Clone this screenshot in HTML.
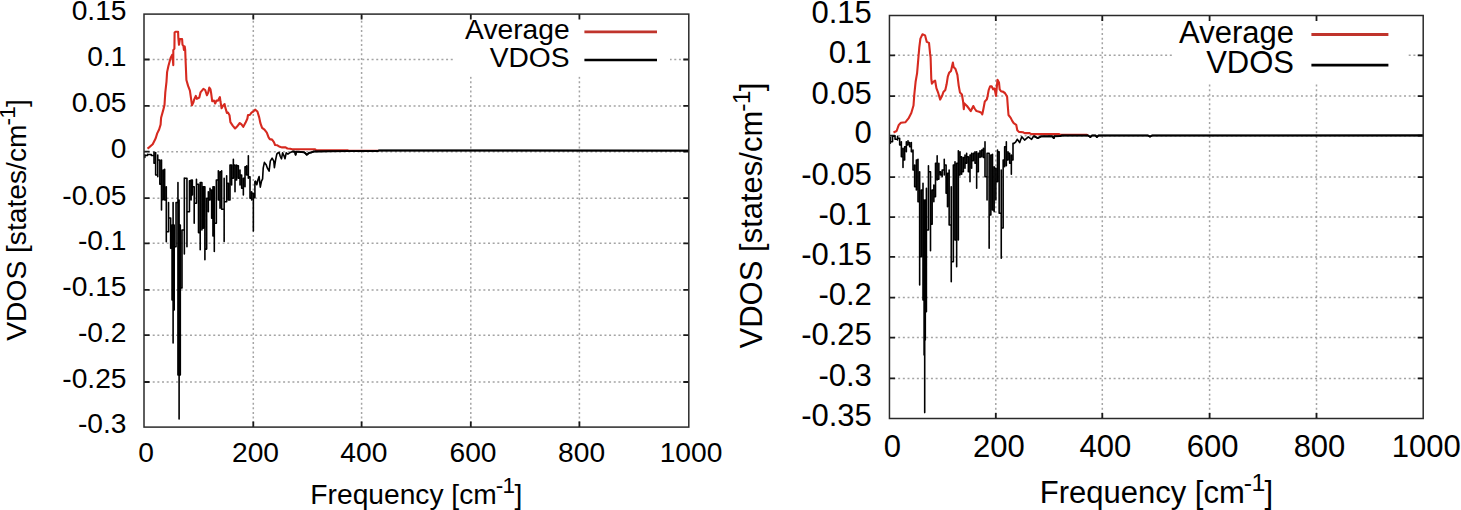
<!DOCTYPE html>
<html><head><meta charset="utf-8"><style>html,body{margin:0;padding:0;background:#fff;width:1461px;height:510px;overflow:hidden}svg{display:block}</style></head>
<body><svg width="1461" height="510" viewBox="0 0 1461 510" font-family='"Liberation Sans", sans-serif' fill="#000">
<rect width="1461" height="510" fill="#fff"/>
<g font-size="28.2"><path d="M144.00 59.50H688.80M144.00 105.90H688.80M144.00 151.70H688.80M144.00 198.20H688.80M144.00 243.30H688.80M144.00 289.90H688.80M144.00 335.20H688.80M144.00 382.00H688.80" stroke="#a4a4a4" stroke-width="1.5" stroke-dasharray="2 2.657" stroke-dashoffset="0.61" fill="none"/>
<path d="M253.30 427.10V14.10M361.60 427.10V14.10M470.80 427.10V14.10M579.40 427.10V14.10" stroke="#a4a4a4" stroke-width="1.5" stroke-dasharray="2 2.657" stroke-dashoffset="0.81" fill="none"/>
<rect x="454" y="14.1" width="216" height="62.4" fill="#fff"/>
<path d="M144.00 59.50h5.5M688.80 59.50h-5.5M144.00 105.90h5.5M688.80 105.90h-5.5M144.00 151.70h5.5M688.80 151.70h-5.5M144.00 198.20h5.5M688.80 198.20h-5.5M144.00 243.30h5.5M688.80 243.30h-5.5M144.00 289.90h5.5M688.80 289.90h-5.5M144.00 335.20h5.5M688.80 335.20h-5.5M144.00 382.00h5.5M688.80 382.00h-5.5M253.30 427.10v-5.5M253.30 14.10v5.5M361.60 427.10v-5.5M361.60 14.10v5.5M470.80 427.10v-5.5M470.80 14.10v5.5M579.40 427.10v-5.5M579.40 14.10v5.5" stroke="#1a1a1a" stroke-width="1.8" fill="none"/>
<polyline points="147.5,148.6 148.8,147.6 152.7,144.2 155.7,138.3 157.2,133.4 159.1,129.5 160.6,124.6 161.1,117.7 163.0,110.9 164.5,105.0 165.3,92.4 166.5,81.6 167.1,72.1 168.4,66.0 170.6,58.0 172.4,54.5 173.3,65.1 173.3,50.1 174.4,48.7 174.6,32.4 175.9,31.7 178.1,31.7 178.3,37.7 179.0,44.8 179.9,39.0 182.1,39.0 182.5,44.8 183.4,45.7 183.9,50.0 184.7,46.5 185.2,50.0 185.6,60.7 186.4,80.0 188.1,85.9 189.9,90.6 191.1,98.8 192.0,105.3 193.4,102.4 194.0,100.0 195.8,95.9 196.9,98.8 199.3,97.6 200.5,92.4 203.4,88.8 205.2,90.0 206.9,95.3 208.1,92.9 209.3,87.6 210.5,89.4 211.1,92.9 212.2,101.2 214.0,100.6 215.2,103.5 216.4,100.6 218.1,100.6 219.9,97.1 220.5,101.8 221.6,108.2 222.8,105.9 224.6,104.1 225.2,107.1 226.9,112.9 228.0,112.6 229.5,115.2 230.4,122.1 232.7,125.6 235.1,128.5 236.8,126.8 239.8,123.0 241.5,124.4 243.3,126.8 245.6,122.6 247.4,118.5 248.0,115.0 249.8,115.0 251.5,112.6 253.3,111.5 255.1,109.7 257.4,111.5 259.2,117.4 260.4,123.2 262.1,127.9 264.5,129.7 266.8,132.6 268.6,137.4 269.8,139.1 272.1,139.6 273.9,142.1 275.1,145.0 277.4,145.3 279.8,146.8 282.1,147.4 285.6,147.4 287.4,148.5 290.3,148.8 292.0,149.3 315.3,149.3 316.2,150.4 348.0,150.4 349.0,150.7 378.5,150.7" stroke="#d62a20" stroke-width="2.1" fill="none" stroke-linejoin="round"/>
<polyline points="144.85,154.2 144.85,154.2 144.85,157.5 144.85,155.5 147.55,155.5 147.55,155.5 147.55,154.3 147.55,154.5 151.30,154.5 151.30,154.5 151.30,155.5 151.30,155.5 154.00,155.5 154.00,152.0 154.00,163.3 154.00,163.3 155.65,163.3 155.65,152.5 155.65,175.0 155.65,175.0 157.75,175.0 157.75,176.7 157.75,155.0 157.75,160.0 159.85,160.0 159.85,160.0 159.85,184.2 159.85,184.2 161.50,184.2 161.50,160.0 161.50,210.0 161.50,199.8 163.15,199.8 163.15,199.8 163.15,170.0 163.15,170.0 164.65,170.0 164.65,169.2 164.65,200.0 164.65,200.0 166.30,200.0 166.30,186.7 166.30,241.7 166.30,231.7 168.55,231.7 168.55,231.7 168.55,202.5 168.55,218.0 170.65,218.0 170.65,218.0 170.65,248.3 170.65,248.3 172.05,248.3 172.05,225.0 172.05,300.0 172.05,300.0 173.10,300.0 173.10,343.0 173.10,202.5 173.10,225.0 174.20,225.0 174.20,225.0 174.20,310.0 174.20,246.7 176.05,246.7 176.05,246.7 176.05,202.5 176.05,202.5 177.95,202.5 177.95,182.5 177.95,375.0 177.95,375.0 179.10,375.0 179.10,419.0 179.10,200.0 179.10,225.0 180.30,225.0 180.30,225.0 180.30,375.0 180.30,288.0 182.00,288.0 182.00,288.0 182.00,230.0 182.00,230.0 184.35,230.0 184.35,254.0 184.35,178.0 184.35,178.3 186.95,178.3 186.95,178.3 186.95,246.8 186.95,211.7 189.45,211.7 189.45,211.7 189.45,180.8 189.45,180.8 191.10,180.8 191.10,180.0 191.10,200.0 191.10,195.0 192.35,195.0 192.35,195.0 192.35,180.0 192.35,186.7 194.20,186.7 194.20,186.7 194.20,223.2 194.20,203.3 196.45,203.3 196.45,203.3 196.45,179.2 196.45,184.2 198.50,184.2 198.50,184.2 198.50,232.6 198.50,232.6 200.20,232.6 200.20,249.7 200.20,182.5 200.20,182.5 201.90,182.5 201.90,182.5 201.90,230.0 201.90,228.3 203.35,228.3 203.35,228.3 203.35,186.7 203.35,186.7 204.90,186.7 204.90,186.7 204.90,259.7 204.90,249.1 206.65,249.1 206.65,249.1 206.65,198.3 206.65,198.3 208.35,198.3 208.35,191.7 208.35,211.7 208.35,200.0 210.00,200.0 210.00,200.0 210.00,188.3 210.00,190.0 211.65,190.0 211.65,190.0 211.65,218.3 211.65,218.3 212.95,218.3 212.95,236.0 212.95,186.7 212.95,186.7 214.30,186.7 214.30,186.7 214.30,251.5 214.30,223.3 216.35,223.3 216.35,223.3 216.35,180.0 216.35,180.0 218.35,180.0 218.35,170.8 218.35,200.0 218.35,200.0 220.00,200.0 220.00,208.3 220.00,171.7 220.00,171.7 221.65,171.7 221.65,170.8 221.65,209.2 221.65,209.2 224.15,209.2 224.15,178.3 224.15,241.5 224.15,201.7 226.65,201.7 226.65,201.7 226.65,175.8 226.65,183.3 228.35,183.3 228.35,183.3 228.35,200.0 228.35,200.0 230.00,200.0 230.00,200.0 230.00,165.0 230.00,165.0 231.65,165.0 231.65,165.0 231.65,185.0 231.65,178.3 233.35,178.3 233.35,178.3 233.35,159.2 233.35,165.0 235.00,165.0 235.00,165.0 235.00,191.7 235.00,180.0 236.65,180.0 236.65,180.0 236.65,165.0 236.65,165.8 238.35,165.8 238.35,165.8 238.35,178.3 238.35,178.3 240.00,178.3 240.00,185.0 240.00,170.0 240.00,175.0 241.65,175.0 241.65,175.0 241.65,188.3 241.65,188.3 243.35,188.3 243.35,195.0 243.35,178.3 243.35,178.3 245.00,178.3 245.00,186.7 245.00,166.7 245.00,166.7 246.65,166.7 246.65,165.8 246.65,175.0 246.65,175.0 248.35,175.0 248.35,178.3 248.35,155.8 248.35,176.7 250.00,176.7 250.00,176.7 250.00,198.3 250.00,198.3 251.65,198.3 251.65,200.0 251.65,191.7 251.65,193.3 253.35,193.3 253.35,193.3 253.35,231.0 253.35,197.6 254.90,197.6 254.90,197.6 254.90,181.7 255.60,181.2 256.80,184.7 257.90,180.0 259.10,176.5 260.30,187.1 261.50,181.2 262.60,178.8 263.20,168.2 264.40,162.4 266.20,164.7 267.40,168.2 269.10,171.2 270.30,161.2 272.10,158.2 273.80,161.2 274.40,167.6 275.60,160.0 276.80,154.1 277.90,152.9 279.10,152.4 280.30,156.5 281.50,158.8 282.60,152.9 283.80,155.3 285.00,158.8 286.20,152.9 287.90,154.1 290.30,152.4 292.60,151.4 295.00,151.8 295.60,154.7 296.20,151.8 298.50,151.8 304.40,152.4 306.80,154.7 309.10,152.9 311.50,152.4 313.80,151.5 330.00,151.3 348.00,151.1 377.80,151.0 378.80,150.5 688.80,150.6" stroke="#000" stroke-width="1.6" fill="none" stroke-linejoin="round"/>
<polyline points="292.60,151.40 295.00,151.80 295.60,154.70 296.20,151.80 298.50,151.80 304.40,152.40 306.80,154.70 309.10,152.90 311.50,152.40 313.80,151.50 330.00,151.30 348.00,151.10 377.80,151.00 378.80,150.50 688.80,150.60" stroke="#000" stroke-width="1.9" fill="none" stroke-linejoin="round"/>
<rect x="144.0" y="14.1" width="544.80" height="413.00" stroke="#2a2a2a" stroke-width="1.5" fill="none"/>
<text x="126.5" y="20.40" text-anchor="end">0.15</text>
<text x="126.5" y="65.80" text-anchor="end">0.1</text>
<text x="126.5" y="112.20" text-anchor="end">0.05</text>
<text x="126.5" y="158.00" text-anchor="end">0</text>
<text x="126.5" y="204.50" text-anchor="end">-0.05</text>
<text x="126.5" y="249.60" text-anchor="end">-0.1</text>
<text x="126.5" y="296.20" text-anchor="end">-0.15</text>
<text x="126.5" y="341.50" text-anchor="end">-0.2</text>
<text x="126.5" y="388.30" text-anchor="end">-0.25</text>
<text x="126.5" y="433.40" text-anchor="end">-0.3</text>
<text x="146.20" y="462.3" text-anchor="middle">0</text>
<text x="255.50" y="462.3" text-anchor="middle">200</text>
<text x="363.80" y="462.3" text-anchor="middle">400</text>
<text x="473.00" y="462.3" text-anchor="middle">600</text>
<text x="581.60" y="462.3" text-anchor="middle">800</text>
<text x="691.00" y="462.3" text-anchor="middle">1000</text>
<text x="416.3" y="503.7" text-anchor="middle">Frequency [cm<tspan dx="-1.0" dy="-10.7" font-size="22.6">-<tspan dx="-0.7">1</tspan></tspan><tspan dx="-0.8" dy="10.7">]</tspan></text>
<text transform="translate(25.6,219.9) rotate(-90)" text-anchor="middle">VDOS [states/cm<tspan dx="-1.0" dy="-10.7" font-size="22.6">-<tspan dx="-0.7">1</tspan></tspan><tspan dx="-0.8" dy="10.7">]</tspan></text>
<text x="569.6" y="38.80" text-anchor="end">Average</text>
<text x="569.6" y="66.90" text-anchor="end">VDOS</text>
<path d="M584.4 31.9H657.0" stroke="#c0342c" stroke-width="2.8"/>
<path d="M584.4 60.0H657.0" stroke="#000" stroke-width="2.6"/></g>
<g font-size="31.0"><path d="M889.45 55.30H1423.20M889.45 96.10H1423.20M889.45 135.70H1423.20M889.45 177.10H1423.20M889.45 217.10H1423.20M889.45 256.90H1423.20M889.45 297.60H1423.20M889.45 337.60H1423.20M889.45 378.40H1423.20" stroke="#a4a4a4" stroke-width="1.5" stroke-dasharray="2 2.684" stroke-dashoffset="0.68" fill="none"/>
<path d="M995.80 418.50V15.50M1102.30 418.50V15.50M1209.60 418.50V15.50M1316.50 418.50V15.50" stroke="#a4a4a4" stroke-width="1.5" stroke-dasharray="2 2.684" stroke-dashoffset="0.57" fill="none"/>
<rect x="1172" y="15.5" width="236" height="68.0" fill="#fff"/>
<path d="M889.45 55.30h5.5M1423.20 55.30h-5.5M889.45 96.10h5.5M1423.20 96.10h-5.5M889.45 135.70h5.5M1423.20 135.70h-5.5M889.45 177.10h5.5M1423.20 177.10h-5.5M889.45 217.10h5.5M1423.20 217.10h-5.5M889.45 256.90h5.5M1423.20 256.90h-5.5M889.45 297.60h5.5M1423.20 297.60h-5.5M889.45 337.60h5.5M1423.20 337.60h-5.5M889.45 378.40h5.5M1423.20 378.40h-5.5M995.80 418.50v-5.5M995.80 15.50v5.5M1102.30 418.50v-5.5M1102.30 15.50v5.5M1209.60 418.50v-5.5M1209.60 15.50v5.5M1316.50 418.50v-5.5M1316.50 15.50v5.5" stroke="#1a1a1a" stroke-width="1.8" fill="none"/>
<polyline points="893.5,132.5 896.6,131.0 898.8,124.9 900.9,122.8 905.3,122.3 908.5,118.4 911.3,113.0 913.5,105.5 914.3,94.7 915.6,81.8 917.1,73.1 918.2,60.2 919.3,47.3 920.4,38.6 922.5,34.3 925.1,35.4 926.8,41.9 929.0,42.9 930.1,53.7 930.6,57.5 931.3,79.2 931.9,83.7 933.2,81.8 935.1,80.5 936.4,88.1 938.3,93.2 940.2,99.6 942.1,95.8 943.4,92.0 945.3,90.0 946.6,84.3 947.8,76.7 949.1,72.8 951.0,70.9 952.9,62.6 953.6,67.1 955.5,69.0 957.4,74.8 958.7,85.6 960.0,92.6 961.9,94.5 963.1,101.5 963.8,109.2 964.4,103.4 967.0,106.0 968.9,108.5 970.8,111.1 972.1,108.5 973.3,106.0 974.6,108.5 976.5,111.1 979.1,111.7 981.0,112.4 982.3,114.3 983.5,108.5 984.8,101.5 986.7,99.6 987.2,98.1 988.7,90.0 990.1,86.3 991.6,86.3 993.1,89.3 994.6,88.5 996.0,95.9 997.5,79.7 999.0,82.6 999.7,89.3 1001.2,91.5 1002.6,91.5 1004.9,93.0 1007.1,96.6 1007.8,106.2 1008.5,115.0 1010.7,117.9 1012.2,120.9 1013.7,123.1 1016.2,124.8 1017.3,130.2 1018.9,131.9 1023.0,132.3 1024.6,133.1 1029.6,133.1 1031.2,134.1 1059.1,134.1 1060.0,134.9 1087.0,134.9 1088.0,135.3" stroke="#d62a20" stroke-width="2.1" fill="none" stroke-linejoin="round"/>
<polyline points="890.40,136.7 890.40,136.7 890.40,143.3 890.40,141.7 892.55,141.7 892.55,141.7 892.55,136.3 892.55,136.3 895.05,136.3 895.05,135.8 895.05,139.2 895.05,139.2 897.55,139.2 897.55,140.0 897.55,136.3 897.55,138.3 899.65,138.3 899.65,138.3 899.65,145.0 899.65,145.0 901.35,145.0 901.35,141.7 901.35,156.7 901.35,156.7 903.00,156.7 903.00,148.3 903.00,167.5 903.00,160.0 904.65,160.0 904.65,160.0 904.65,146.7 904.65,146.7 906.35,146.7 906.35,141.7 906.35,151.7 906.35,145.0 908.00,145.0 908.00,145.0 908.00,140.8 908.00,142.5 909.65,142.5 909.65,142.5 909.65,146.7 909.65,146.7 911.35,146.7 911.35,142.5 911.35,151.7 911.35,151.7 913.00,151.7 913.00,150.0 913.00,170.0 913.00,170.0 914.65,170.0 914.65,165.0 914.65,186.7 914.65,186.7 916.35,186.7 916.35,190.0 916.35,160.0 916.35,160.0 918.00,160.0 918.00,159.2 918.00,201.7 918.00,201.7 919.65,201.7 919.65,171.7 919.65,285.0 919.65,256.7 921.35,256.7 921.35,256.7 921.35,190.0 921.35,190.0 923.00,190.0 923.00,183.3 923.00,300.0 923.00,300.0 924.10,300.0 924.10,355.0 924.10,200.0 924.10,210.0 924.70,210.0 924.70,210.0 924.70,412.6 924.70,340.0 925.30,340.0 925.30,340.0 925.30,200.0 925.30,200.0 926.40,200.0 926.40,188.3 926.40,311.8 926.40,230.0 928.45,230.0 928.45,230.0 928.45,165.8 928.45,171.7 930.50,171.7 930.50,171.7 930.50,250.8 930.50,224.2 932.15,224.2 932.15,224.2 932.15,190.0 932.15,190.0 933.85,190.0 933.85,185.0 933.85,201.7 933.85,196.7 935.50,196.7 935.50,196.7 935.50,163.3 935.50,163.3 937.15,163.3 937.15,155.8 937.15,180.0 937.15,179.2 938.85,179.2 938.85,179.2 938.85,163.3 938.85,171.7 940.50,171.7 940.50,171.7 940.50,175.0 940.50,175.0 942.15,175.0 942.15,176.7 942.15,170.0 942.15,170.0 944.25,170.0 944.25,175.0 944.25,159.2 944.25,165.0 946.10,165.0 946.10,165.0 946.10,193.3 946.10,193.3 947.50,193.3 947.50,206.7 947.50,173.3 947.50,173.3 949.15,173.3 949.15,170.0 949.15,225.0 949.15,225.0 951.25,225.0 951.25,186.7 951.25,281.7 951.25,261.7 953.35,261.7 953.35,261.7 953.35,165.0 953.35,165.0 955.00,165.0 955.00,161.7 955.00,240.0 955.00,240.0 956.65,240.0 956.65,266.7 956.65,163.3 956.65,163.3 958.35,163.3 958.35,150.8 958.35,240.0 958.35,175.0 960.00,175.0 960.00,175.0 960.00,151.7 960.00,156.7 961.65,156.7 961.65,156.7 961.65,174.2 961.65,171.7 963.35,171.7 963.35,171.7 963.35,157.5 963.35,157.5 965.00,157.5 965.00,155.0 965.00,168.3 965.00,163.3 966.65,163.3 966.65,163.3 966.65,153.3 966.65,156.7 968.35,156.7 968.35,156.7 968.35,171.7 968.35,171.7 970.00,171.7 970.00,181.7 970.00,155.0 970.00,155.0 971.65,155.0 971.65,153.3 971.65,168.3 971.65,160.8 973.35,160.8 973.35,160.8 973.35,153.3 973.35,153.3 975.00,153.3 975.00,151.7 975.00,163.3 975.00,163.3 976.65,163.3 976.65,151.7 976.65,188.3 976.65,171.7 978.35,171.7 978.35,171.7 978.35,153.3 978.35,153.3 980.00,153.3 980.00,150.8 980.00,157.5 980.00,156.7 981.65,156.7 981.65,156.7 981.65,150.0 981.65,150.0 983.35,150.0 983.35,148.3 983.35,157.5 983.35,157.5 985.00,157.5 985.00,141.7 985.00,176.7 985.00,176.7 987.05,176.7 987.05,200.0 987.05,153.3 987.05,153.3 989.15,153.3 989.15,153.3 989.15,248.3 989.15,215.0 990.85,215.0 990.85,215.0 990.85,155.0 990.85,155.0 992.50,155.0 992.50,154.2 992.50,210.0 992.50,210.0 994.15,210.0 994.15,211.7 994.15,166.7 994.15,168.3 995.85,168.3 995.85,168.3 995.85,200.0 995.85,181.7 997.50,181.7 997.50,181.7 997.50,150.0 997.50,151.7 999.15,151.7 999.15,151.7 999.15,213.3 999.15,213.3 1001.25,213.3 1001.25,170.0 1001.25,258.3 1001.25,228.0 1003.15,228.0 1003.15,228.0 1003.15,160.0 1003.15,160.0 1004.65,160.0 1004.65,166.7 1004.65,146.7 1004.65,146.7 1006.35,146.7 1006.35,141.7 1006.35,165.8 1006.35,160.0 1008.00,160.0 1008.00,160.0 1008.00,151.7 1008.00,153.3 1009.65,153.3 1009.65,153.3 1009.65,163.3 1009.65,163.3 1011.35,163.3 1011.35,155.0 1011.35,174.2 1011.35,160.0 1013.00,160.0 1013.00,160.0 1013.00,143.3 1013.80,143.5 1015.60,142.2 1017.20,139.3 1019.70,142.6 1021.80,136.8 1024.60,140.1 1028.30,136.8 1031.60,139.3 1033.70,136.0 1037.80,138.1 1041.10,136.4 1052.00,136.2 1053.80,138.1 1054.50,136.2 1060.00,136.1 1062.00,135.5 1088.00,135.5 1090.40,137.0 1092.00,135.5 1095.50,135.5 1096.90,137.0 1098.50,135.5 1148.00,135.5 1150.00,136.6 1152.00,135.5 1423.20,135.4" stroke="#000" stroke-width="1.6" fill="none" stroke-linejoin="round"/>
<polyline points="1033.70,136.00 1037.80,138.10 1041.10,136.40 1052.00,136.20 1053.80,138.10 1054.50,136.20 1060.00,136.10 1062.00,135.50 1088.00,135.50 1090.40,137.00 1092.00,135.50 1095.50,135.50 1096.90,137.00 1098.50,135.50 1148.00,135.50 1150.00,136.60 1152.00,135.50 1423.20,135.45" stroke="#000" stroke-width="1.9" fill="none" stroke-linejoin="round"/>
<rect x="889.45" y="15.5" width="533.75" height="403.00" stroke="#2a2a2a" stroke-width="1.5" fill="none"/>
<text x="871.8" y="23.10" text-anchor="end">0.15</text>
<text x="871.8" y="62.90" text-anchor="end">0.1</text>
<text x="871.8" y="103.70" text-anchor="end">0.05</text>
<text x="871.8" y="143.30" text-anchor="end">0</text>
<text x="871.8" y="184.70" text-anchor="end">-0.05</text>
<text x="871.8" y="224.70" text-anchor="end">-0.1</text>
<text x="871.8" y="264.50" text-anchor="end">-0.15</text>
<text x="871.8" y="305.20" text-anchor="end">-0.2</text>
<text x="871.8" y="345.20" text-anchor="end">-0.25</text>
<text x="871.8" y="386.00" text-anchor="end">-0.3</text>
<text x="871.8" y="426.10" text-anchor="end">-0.35</text>
<text x="892.45" y="456.9" text-anchor="middle">0</text>
<text x="998.80" y="456.9" text-anchor="middle">200</text>
<text x="1105.30" y="456.9" text-anchor="middle">400</text>
<text x="1212.60" y="456.9" text-anchor="middle">600</text>
<text x="1319.50" y="456.9" text-anchor="middle">800</text>
<text x="1426.20" y="456.9" text-anchor="middle">1000</text>
<text x="1156.4" y="502.6" text-anchor="middle">Frequency [cm<tspan dx="-1.0" dy="-11.8" font-size="24.8">-<tspan dx="-0.7">1</tspan></tspan><tspan dx="-0.8" dy="11.8">]</tspan></text>
<text transform="translate(762.2,215.5) rotate(-90)" text-anchor="middle">VDOS [states/cm<tspan dx="-1.0" dy="-11.8" font-size="24.8">-<tspan dx="-0.7">1</tspan></tspan><tspan dx="-0.8" dy="11.8">]</tspan></text>
<text x="1294.0" y="42.50" text-anchor="end">Average</text>
<text x="1294.0" y="73.10" text-anchor="end">VDOS</text>
<path d="M1311.4 34.5H1388.4" stroke="#c0342c" stroke-width="2.8"/>
<path d="M1311.4 65.1H1388.4" stroke="#000" stroke-width="2.6"/></g>
</svg></body></html>
